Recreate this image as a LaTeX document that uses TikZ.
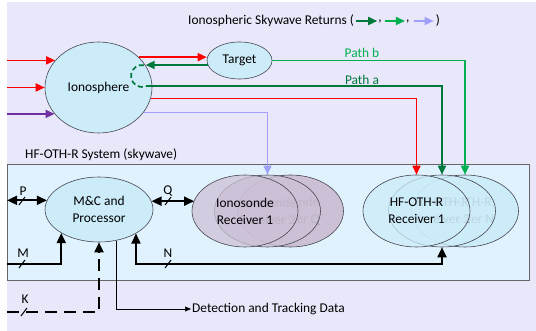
\documentclass[tikz,border=0pt]{standalone}
\usepackage{fontspec}
\setmainfont{Carlito}
\usetikzlibrary{arrows.meta,shapes.geometric}
\definecolor{bgc}{RGB}{232,232,250}
\definecolor{sysf}{RGB}{224,242,253}
\definecolor{ellf}{RGB}{204,236,250}
\definecolor{ionf}{RGB}{204,192,214}
\definecolor{outl}{RGB}{70,70,80}
\definecolor{dkgreen}{RGB}{0,120,60}
\definecolor{ltgreen}{RGB}{0,176,80}
\definecolor{lav}{RGB}{160,160,250}
\definecolor{purp}{RGB}{112,48,160}
\definecolor{fadetxt}{RGB}{150,145,160}
\begin{document}
\begin{tikzpicture}[x=1pt,y=-1pt,
  font=\fontsize{13.4}{17}\selectfont,
  ell/.style={ellipse, draw=outl, line width=0.6pt, inner sep=0pt, fill=ellf, align=center},
  ionell/.style={ellipse, draw=outl, line width=0.6pt, inner sep=0pt, fill=ionf, fill opacity=0.75, text opacity=1, align=center, minimum width=106pt, minimum height=72pt},
  hfell/.style={ellipse, draw=outl, line width=0.6pt, inner sep=0pt, fill=ellf, fill opacity=0.75, text opacity=1, align=center, minimum width=107pt, minimum height=72pt},
  cl/.style={line width=1.7pt, -{Triangle[length=9pt,width=8pt]}},
  bk/.style={line width=1.8pt, -{Triangle[length=10pt,width=9pt]}},
  bkb/.style={line width=1.8pt, {Triangle[length=10pt,width=9pt]}-{Triangle[length=10pt,width=9pt]}},
  slashmark/.style={line width=1pt},
  lbl/.style={inner sep=0pt}
]
\useasboundingbox (0,0) rectangle (536,331);
\fill[white] (0,0) rectangle (536,331);
\fill[bgc] (7,2) rectangle (536,331);
\draw[draw=gray!80!black, line width=0.7pt, fill=sysf] (7,164) rectangle (529,280);

% coordinates for free ends
\coordinate (L) at (7,0);
\coordinate (busM) at (0,264);
\coordinate (busK) at (0,312);
\coordinate (dc) at (142,76);

% nodes
\node[ell, minimum width=107pt, minimum height=91pt] (iono) at (98.5,87.5) {Ionosphere};
\node[ell, minimum width=65pt, minimum height=37pt] (tgt) at (239.5,60.5) {Target};
\node[ell, minimum width=108pt, minimum height=65pt] (mc) at (99,209.5) {M\&C and\\Processor};

\node[ionell, fill opacity=1, text=fadetxt] (ion3) at (290.5,211) {Ionosonde\\Receiver Q};
\node[ionell, text=fadetxt] (ion2) at (267.5,211) {Ionosonde\\Receiver 2};
\node[ionell] (ion1) at (245,211) {Ionosonde\\Receiver 1};

\node[hfell, fill opacity=1, text=fadetxt] (hf3) at (465,211) {HF-OTH-R\\Receiver N};
\node[hfell, text=fadetxt] (hf2) at (442,211) {HF-OTH-R\\Receiver 2};
\node[hfell] (hf1) at (416.5,211) {HF-OTH-R\\Receiver 1};

% texts
\node[anchor=west, lbl] (ttl) at (188,21) {Ionospheric Skywave Returns (};
\node[anchor=west, lbl] (sys) at (25,155) {HF-OTH-R System (skywave)};
\node[lbl, text=ltgreen] (pb) at (362,53) {Path b};
\node[lbl, text=dkgreen] (pa) at (362,80) {Path a};
\node[anchor=west, inner sep=1pt] (det) at (191,309) {Detection and Tracking Data};

% legend
\draw[cl, dkgreen] ([xshift=2pt]ttl.east) -- ++(21,0) coordinate (a1);
\node[anchor=west, lbl] (c1) at ([xshift=1pt,yshift=-1pt]a1) {,};
\draw[cl, ltgreen] ([xshift=3pt,yshift=1pt]c1.east) -- ++(20,0) coordinate (a2);
\node[anchor=west, lbl] (c2) at ([xshift=1pt,yshift=-1pt]a2) {,};
\draw[cl, lav] ([xshift=4pt,yshift=1pt]c2.east) -- ++(20,0) coordinate (a3);
\node[anchor=west, lbl] (c3) at ([xshift=2pt]a3) {)};

% incoming to ionosphere
\draw[cl, red] (L |- iono.148.6) -- (iono.148.6);
\draw[cl, red] (L |- iono.west) -- (iono.west);
\draw[cl, purp] (L |- iono.211.4) -- (iono.211.4);

% ionosphere <-> target
\draw[cl, red] (iono.37.5) -- (iono.37.5 -| tgt.west);
\draw[cl, dkgreen] (tgt.188) -- (tgt.188 -| iono.25.8);

% dashed loop + path a
\draw[line width=1.7pt, dkgreen, dash pattern=on 5pt off 3pt] ([shift={(280:11)}]dc) arc[start angle=280, end angle=70, radius=11];
\draw[cl, dkgreen] ([shift={(70:11)}]dc) -| (hf2.north);
% red to hf1
\draw[cl, red] (iono.-12.5) -| (hf1.north);
% path b
\draw[cl, ltgreen] (tgt.east) -| (hf3.north);
% lavender to ionosonde
\draw[cl, lav] (iono.-29.9) -| (ion2.north);

% black connectors
\draw[bkb] (L |- mc.170.7) -- (mc.170.7);
\draw[bkb] (mc.9.3) -- (mc.9.3 -| ion1.168.9);
\draw[bk] (L |- busM) -| (mc.212.6);
\draw[bkb] (mc.-33.9) |- (busM -| hf2.south) -- (hf2.south);
\draw[bk, dash pattern=on 12pt off 7pt] (L |- busK) -| (mc.south);
\draw[line width=0.5pt, -{Triangle[length=6pt,width=5pt]}] (mc.-61.1) |- (det.west);

% bus marks and labels
\draw[slashmark] (19,205) -- (25,197); \node[lbl] at (23,191) {P};
\draw[slashmark] (165,205) -- (171,197); \node[lbl] at (168,191) {Q};
\draw[slashmark] (19,268) -- (25,260); \node[lbl] at (23,253) {M};
\draw[slashmark] (165,268) -- (171,260); \node[lbl] at (168,253) {N};
\draw[slashmark] (21,316) -- (27,308); \node[lbl] at (25,299) {K};
\end{tikzpicture}
\end{document}
